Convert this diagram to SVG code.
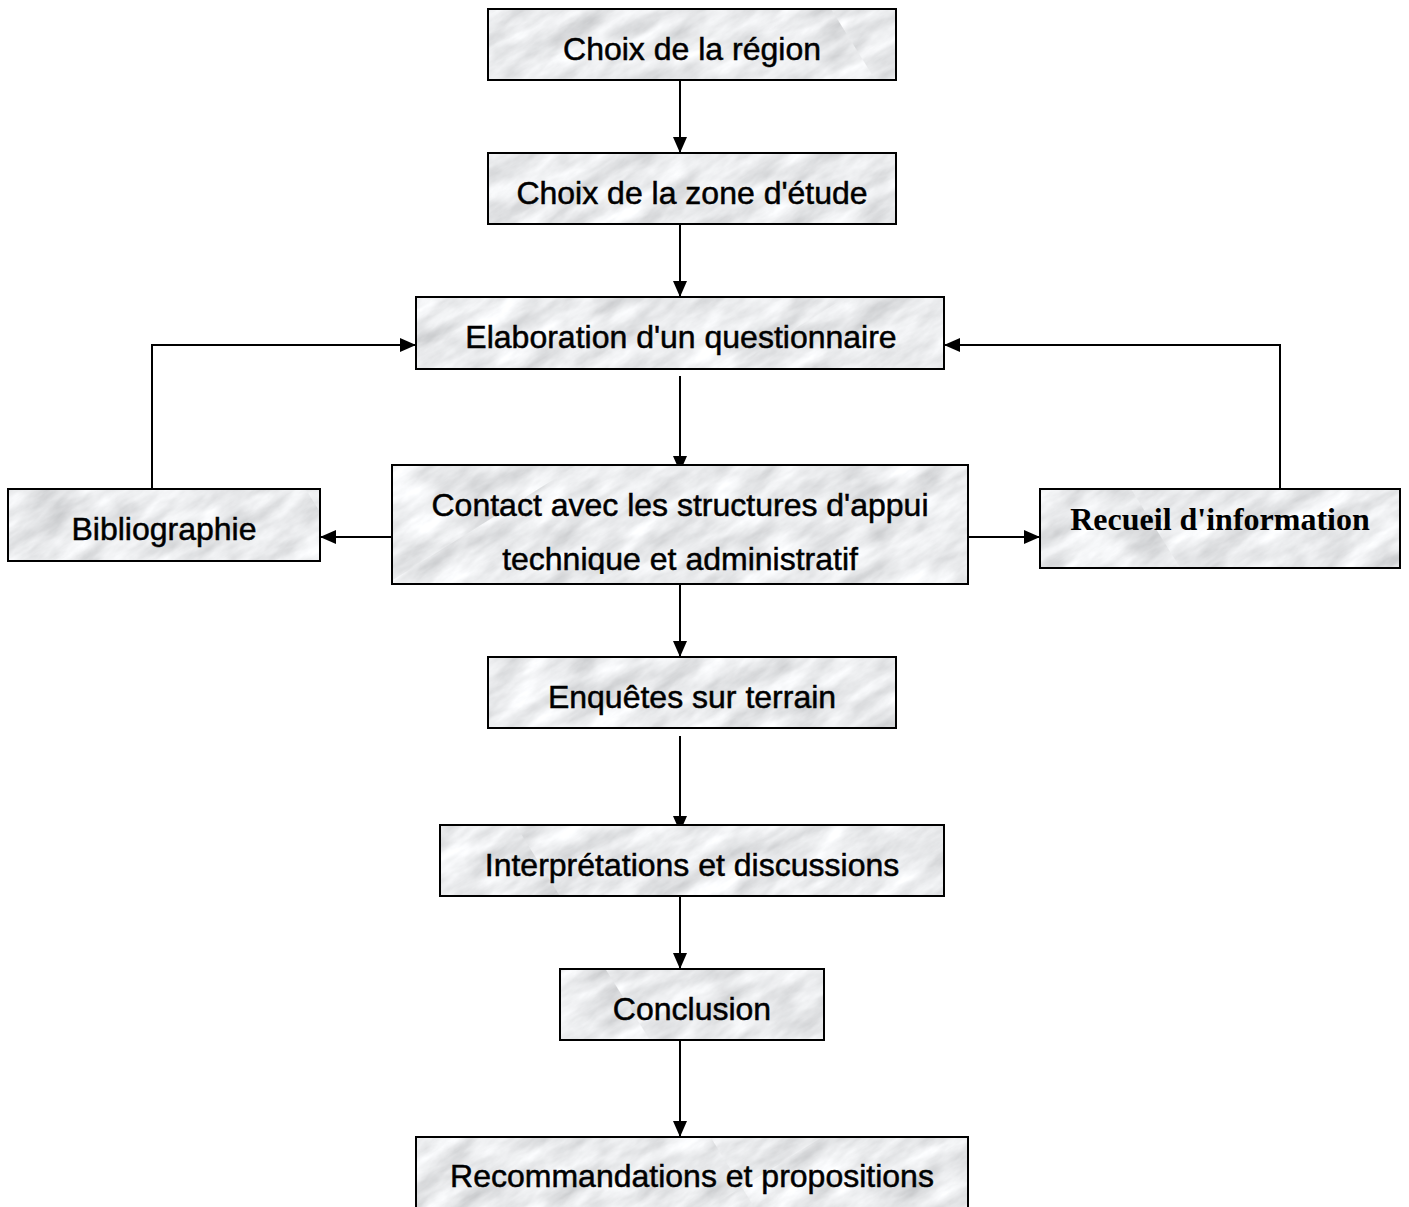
<svg xmlns="http://www.w3.org/2000/svg" width="1409" height="1207" viewBox="0 0 1409 1207">
<defs>
<style>
.box{fill:url(#marble);stroke:#000;stroke-width:2}
.t{font-family:"Liberation Sans",Arial,sans-serif;font-size:32px;fill:#000;stroke:#000;stroke-width:0.5;text-anchor:middle}
.tb{font-family:"Liberation Serif","Times New Roman",serif;font-size:32px;font-weight:bold;fill:#000;text-anchor:middle}
.c{fill:none;stroke:#000;stroke-width:2}
</style>
<filter id="noise" x="0" y="0" width="100%" height="100%">
<feTurbulence type="fractalNoise" baseFrequency="0.018 0.05" numOctaves="5" seed="11"/>
<feColorMatrix type="matrix" values="0.6 0 0 0 0.52  0.6 0 0 0 0.53  0.6 0 0 0 0.545  0 0 0 0 1"/>
</filter>
<pattern id="marble" patternUnits="userSpaceOnUse" width="700" height="700" patternTransform="rotate(-32)">
<rect width="700" height="700" filter="url(#noise)"/>
</pattern>
<marker id="ah" markerWidth="16" markerHeight="14" refX="16" refY="7" orient="auto" markerUnits="userSpaceOnUse">
<path d="M0,0 L16,7 L0,14 z" fill="#000"/>
</marker>
<clipPath id="clipContact"><rect x="392" y="465" width="576" height="109"/></clipPath>
</defs>
<rect width="1409" height="1207" fill="#fff"/>
<g id="connectors">
<path class="c" d="M680,80 V153" marker-end="url(#ah)"/>
<path class="c" d="M680,224 V297" marker-end="url(#ah)"/>
<path class="c" d="M680,376 V472" marker-end="url(#ah)"/>
<path class="c" d="M152,492 V345 H416" marker-end="url(#ah)"/>
<path class="c" d="M1280,489 V345 H944" marker-end="url(#ah)"/>
<path class="c" d="M392,537 H320" marker-end="url(#ah)"/>
<path class="c" d="M968,537 H1040" marker-end="url(#ah)"/>
<path class="c" d="M680,584 V657" marker-end="url(#ah)"/>
<path class="c" d="M680,736 V832" marker-end="url(#ah)"/>
<path class="c" d="M680,896 V969" marker-end="url(#ah)"/>
<path class="c" d="M680,1040 V1137" marker-end="url(#ah)"/>
</g>
<g id="n1"><rect class="box" x="488" y="9" width="408" height="71"/><text class="t" x="692" y="60">Choix de la région</text></g>
<g id="n2"><rect class="box" x="488" y="153" width="408" height="71"/><text class="t" x="692" y="204">Choix de la zone d'étude</text></g>
<g id="n3"><rect class="box" x="416" y="297" width="528" height="72"/><text class="t" x="681" y="348">Elaboration d'un questionnaire</text></g>
<g id="n4"><rect class="box" x="392" y="465" width="576" height="119"/>
<g clip-path="url(#clipContact)"><text class="t" x="680" y="516">Contact avec les structures d'appui</text><text class="t" x="680" y="570">technique et administratif</text></g></g>
<g id="n5"><rect class="box" x="8" y="489" width="312" height="72"/><text class="t" x="164" y="540">Bibliographie</text></g>
<g id="n6"><rect class="box" x="1040" y="489" width="360" height="79"/><text class="tb" x="1220" y="530">Recueil d'information</text></g>
<g id="n7"><rect class="box" x="488" y="657" width="408" height="71"/><text class="t" x="692" y="708">Enquêtes sur terrain</text></g>
<g id="n8"><rect class="box" x="440" y="825" width="504" height="71"/><text class="t" x="692" y="876">Interprétations et discussions</text></g>
<g id="n9"><rect class="box" x="560" y="969" width="264" height="71"/><text class="t" x="692" y="1020">Conclusion</text></g>
<g id="n10"><rect class="box" x="416" y="1137" width="552" height="90"/><text class="t" x="692" y="1187">Recommandations et propositions</text></g>
</svg>
